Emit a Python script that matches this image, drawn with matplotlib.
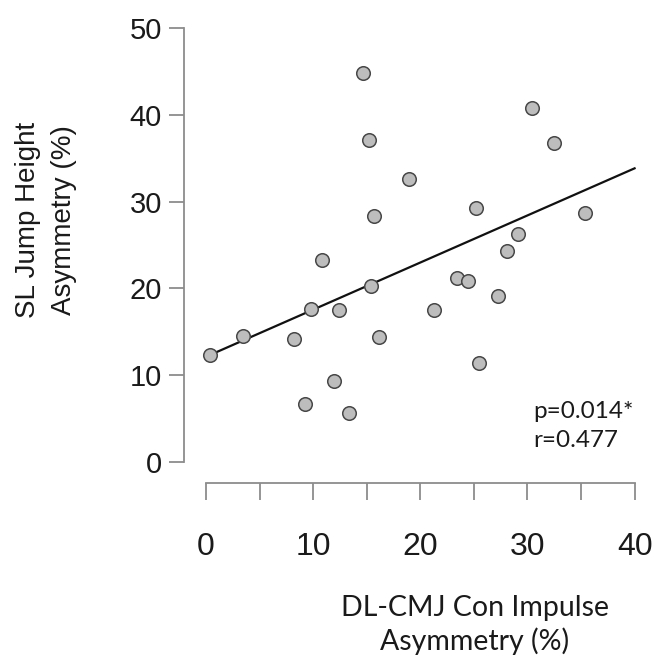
import numpy as np
import matplotlib
matplotlib.use("Agg")
import matplotlib.pyplot as plt
from matplotlib.ticker import MultipleLocator, NullFormatter

# Data
dl_cmj_con_impulse_asym = [0.40, 3.42, 8.21, 9.24, 9.80, 10.86, 11.98, 12.44, 13.37,
                           14.62, 15.18, 15.37, 15.71, 16.14, 18.97, 21.28, 23.45,
                           24.42, 25.16, 25.51, 27.25, 28.09, 29.11, 30.45, 32.47, 35.37]
sl_jump_height_asym = [12.35, 14.54, 14.15, 6.69, 17.65, 23.31, 9.38, 17.46, 5.62,
                       44.81, 37.08, 20.31, 28.38, 14.35, 32.58, 17.54, 21.19,
                       20.88, 29.27, 11.38, 19.08, 24.27, 26.27, 40.77, 36.77, 28.69]
x_ticks = [0, 10, 20, 30, 40]
y_ticks = [0, 10, 20, 30, 40, 50]
stats_text = "p=0.014*\nr=0.477"

x = np.array(dl_cmj_con_impulse_asym)
y = np.array(sl_jump_height_asym)

W, H = 654, 664
fig = plt.figure(figsize=(W / 100, H / 100), dpi=100)
ax = fig.add_axes([184 / W, (H - 482.7) / H, 466 / W, (482.7 - 20) / H])
ax.set_xlim(-2.05, 41.44)
ax.set_ylim(-2.385, 50.92)

ax.scatter(x, y, s=95, facecolor="#bdbdbd", edgecolor="#474747", linewidth=1.1, zorder=3)

slope, intercept = np.polyfit(x, y, 1)
xl = np.array([x.min(), x_ticks[-1]])
ax.plot(xl, intercept + slope * xl, color="#111111", lw=1.6, zorder=2)

for s in ["top", "right"]:
    ax.spines[s].set_visible(False)
ax.spines["left"].set_bounds(y_ticks[0], y_ticks[-1])
ax.spines["bottom"].set_bounds(x_ticks[0], x_ticks[-1])
for s in ["left", "bottom"]:
    ax.spines[s].set_color("#8c8c8c")
    ax.spines[s].set_linewidth(1.3)

ax.set_yticks(y_ticks)
ax.set_xticks(x_ticks)
ax.xaxis.set_minor_locator(MultipleLocator(5))
ax.xaxis.set_minor_formatter(NullFormatter())
ax.tick_params(axis="y", length=11, width=1.3, color="#8c8c8c", pad=5,
               labelsize=21, labelcolor="#1a1a1a")
ax.tick_params(axis="x", which="both", length=12.5, width=1.3, color="#8c8c8c",
               pad=23, labelsize=23, labelcolor="#1a1a1a")
for lab in ax.get_xticklabels() + ax.get_yticklabels():
    lab.set_family("Liberation Sans")

fig.text(46 / W, 1 - 220 / H, "SL Jump Height\nAsymmetry (%)", rotation=90,
         ha="center", va="center", fontsize=20, family="Liberation Sans",
         color="#1a1a1a", linespacing=1.5, multialignment="center")
fig.text(475 / W, 1 - 625 / H, "DL-CMJ Con Impulse\nAsymmetry (%)", ha="center",
         va="center", fontsize=20.5, family="Lato", color="#1a1a1a", linespacing=1.3)
fig.text(533 / W, 1 - 426 / H, stats_text, ha="left", va="center", fontsize=17.5,
         family="Lato", color="#1a1a1a", linespacing=1.5)

fig.savefig("out.png", dpi=100, facecolor="white")
